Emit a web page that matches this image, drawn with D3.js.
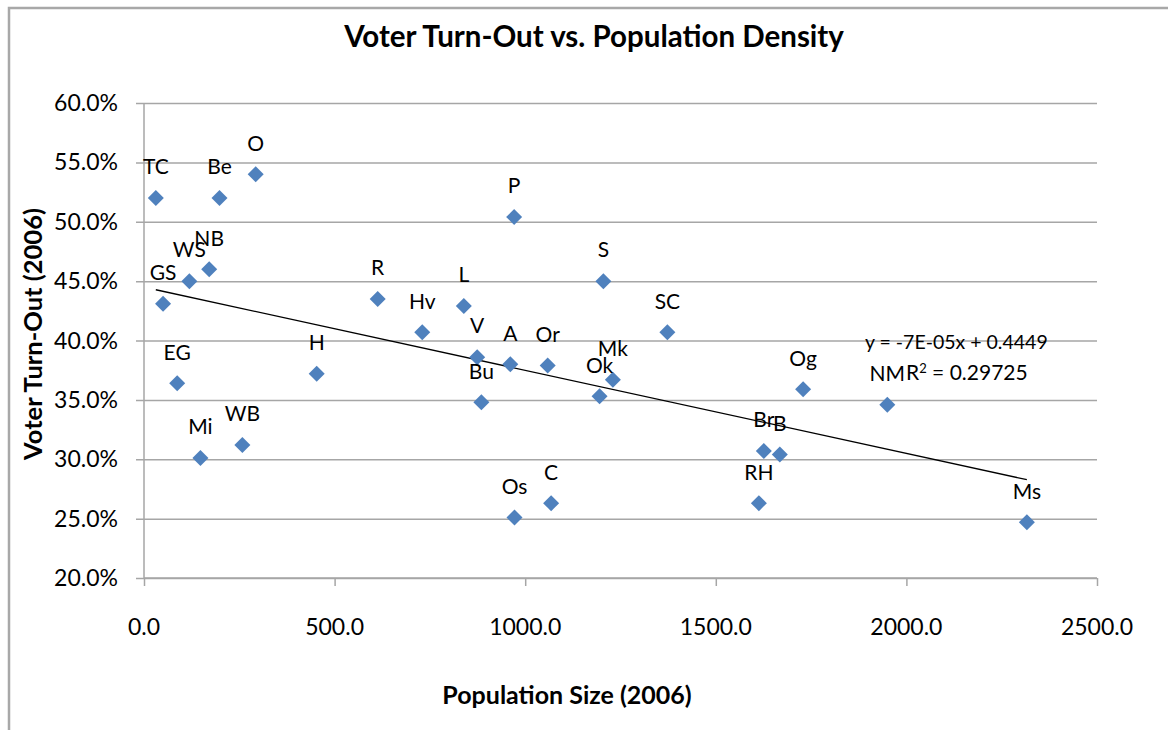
<!DOCTYPE html>
<html>
<head>
<meta charset="utf-8">
<script src="https://cdn.jsdelivr.net/npm/d3@7"></script>
<style>
  html, body { margin: 0; padding: 0; background: #fff; }
  svg text { font-family: Lato, "Open Sans", "Liberation Sans", sans-serif; fill: #000; }
</style>
</head>
<body>
<svg id="chart" width="1168" height="730"></svg>
<script>
// Community codes, population size (2006) and voter turn-out (2006)
const names = ["TC","Be","O","NB","WS","GS","EG","Mi","WB","H","R","Hv","L","V","A","Bu","P","Os","Or","C","Ok","S","Mk","SC","RH","Br","B","Og","NM","Ms"];
const population = [31, 198, 293, 171, 119, 50, 87, 148, 258, 453, 613, 730, 839, 874, 961, 885, 971, 972, 1059, 1068, 1195, 1205, 1230, 1373, 1613, 1626, 1668, 1729, 1950, 2316];
const turnout = [0.520, 0.520, 0.540, 0.460, 0.450, 0.431, 0.364, 0.301, 0.312, 0.372, 0.435, 0.407, 0.429, 0.386, 0.380, 0.348, 0.504, 0.251, 0.379, 0.263, 0.353, 0.450, 0.367, 0.407, 0.263, 0.307, 0.304, 0.359, 0.346, 0.247];

// Linear trendline as reported: y = -7E-05x + 0.4449, R² = 0.29725
const trendSlope = -7e-05;
const trendIntercept = 0.4449;
const rSquared = 0.29725;

const xTicks = [0, 500, 1000, 1500, 2000, 2500];
const yTicks = [0.20, 0.25, 0.30, 0.35, 0.40, 0.45, 0.50, 0.55, 0.60];

const svg = d3.select("#chart");

// Chart area border (runs off the right and bottom edges)
svg.append("rect")
  .attr("x", 9).attr("y", 8).attr("width", 1300).attr("height", 900)
  .attr("fill", "none").attr("stroke", "#a8a8a8").attr("stroke-width", 2.5);

const x = d3.scaleLinear().domain([0, 2500]).range([144, 1097]);
const y = d3.scaleLinear().domain([0.20, 0.60]).range([578, 103]);

// Horizontal gridlines and left tick marks
const yAxis = d3.axisLeft(y).tickValues(yTicks).tickSize(-(1097 - 144)).tickFormat("");
svg.append("g").attr("transform", "translate(144,0)").call(yAxis)
  .call(g => g.select(".domain").remove())
  .call(g => g.selectAll(".tick line").attr("stroke", "#a6a6a6").attr("stroke-width", 1.5).attr("x1", -8));

// Vertical axis line
svg.append("line")
  .attr("x1", 144).attr("x2", 144).attr("y1", y(0.60)).attr("y2", y(0.20))
  .attr("stroke", "#a6a6a6").attr("stroke-width", 1.5);

// X axis tick marks
const xAxis = d3.axisBottom(x).tickValues(xTicks).tickSize(8).tickFormat("");
svg.append("g").attr("transform", `translate(0,${y(0.20)})`).call(xAxis)
  .call(g => g.select(".domain").attr("stroke", "#a6a6a6").attr("stroke-width", 1.5).attr("d", `M${x(0)},0H${x(2500)}`))
  .call(g => g.selectAll(".tick line").attr("stroke", "#a6a6a6").attr("stroke-width", 1.5));

// Y tick labels
svg.append("g").selectAll("text").data(yTicks).join("text")
  .attr("x", 118).attr("y", d => y(d)).attr("dy", "0.35em")
  .attr("text-anchor", "end").attr("font-size", 23)
  .text(d => d3.format(".1%")(d));

// X tick labels
svg.append("g").selectAll("text").data(xTicks).join("text")
  .attr("x", d => x(d)).attr("y", 627).attr("dy", "0.35em")
  .attr("text-anchor", "middle").attr("font-size", 23)
  .text(d => d3.format(".1f")(d));

// Trendline across the data range
const xMin = d3.min(population), xMax = d3.max(population);
svg.append("line")
  .attr("x1", x(xMin)).attr("y1", y(trendSlope * xMin + trendIntercept))
  .attr("x2", x(xMax)).attr("y2", y(trendSlope * xMax + trendIntercept))
  .attr("stroke", "#000").attr("stroke-width", 1.3);

const points = names.map((n, i) => ({ name: n, px: population[i], py: turnout[i] }));

// Diamond markers
svg.append("g").selectAll("path").data(points).join("path")
  .attr("transform", d => `translate(${x(d.px)},${y(d.py)})`)
  .attr("d", "M0,-8L8,0L0,8L-8,0Z")
  .attr("fill", "#4f81bd");

// Point labels above each marker
svg.append("g").selectAll("text").data(points).join("text")
  .attr("x", d => x(d.px)).attr("y", d => y(d.py) - 31).attr("dy", "0.35em")
  .attr("text-anchor", "middle").attr("font-size", 21)
  .text(d => d.name);

// Trendline equation and R²
const slopeText = trendSlope.toExponential(0).toUpperCase().replace(/E([+-])(\d)$/, "E$10$2");
svg.append("text").attr("x", 865).attr("y", 342).attr("dy", "0.35em").attr("font-size", 19.5)
  .text(`y = ${slopeText}x + ${trendIntercept}`);
const r2 = svg.append("text").attr("x", 906).attr("y", 373).attr("dy", "0.35em").attr("font-size", 21);
r2.append("tspan").text("R");
r2.append("tspan").text("2").attr("font-size", 13).attr("dy", "-0.55em");
r2.append("tspan").text(` = ${rSquared}`).attr("dy", "0.34em");

// Titles
svg.append("text").attr("x", 594).attr("y", 37).attr("dy", "0.35em")
  .attr("text-anchor", "middle").attr("font-size", 29.5).attr("font-weight", "bold")
  .text("Voter Turn-Out vs. Population Density");

svg.append("text").attr("x", 567).attr("y", 695).attr("dy", "0.35em")
  .attr("text-anchor", "middle").attr("font-size", 25).attr("font-weight", "bold")
  .text("Population Size (2006)");

svg.append("text").attr("transform", "translate(33,334) rotate(-90)").attr("dy", "0.35em")
  .attr("text-anchor", "middle").attr("font-size", 25.5).attr("font-weight", "bold")
  .text("Voter Turn-Out (2006)");
</script>
</body>
</html>
